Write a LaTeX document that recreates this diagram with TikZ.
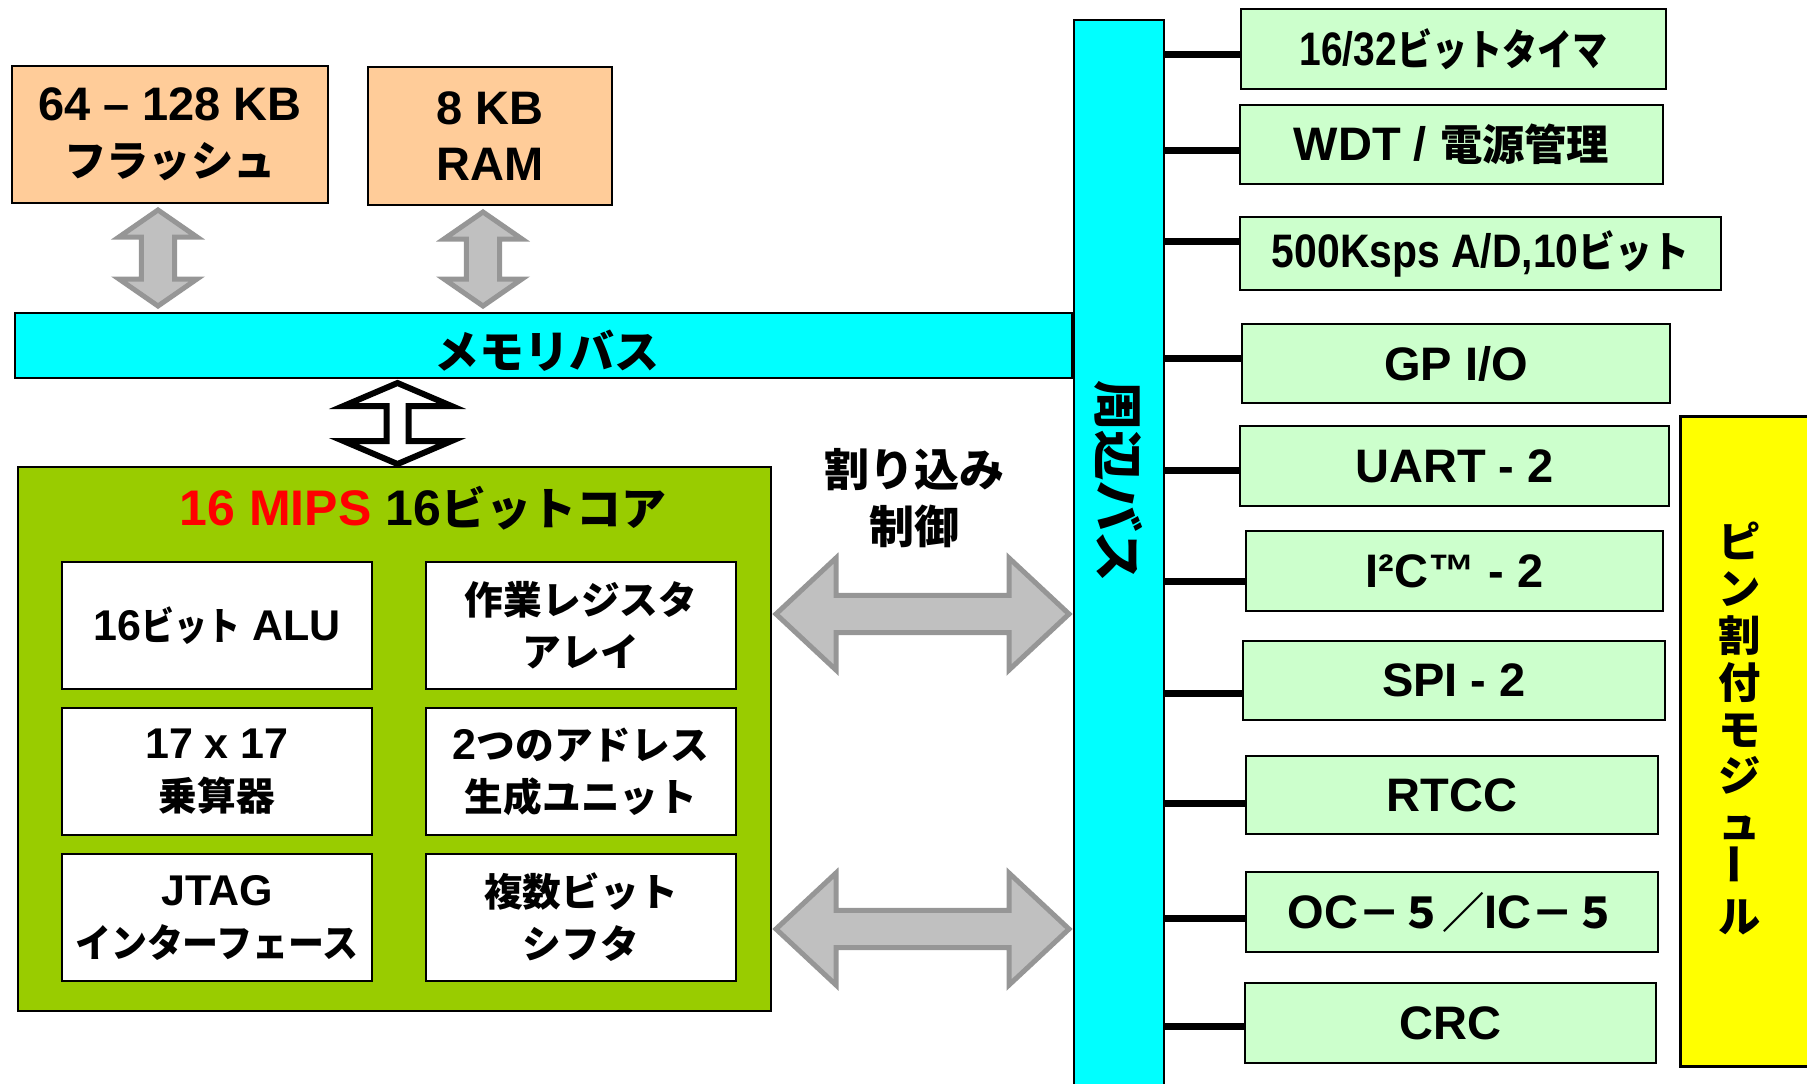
\documentclass[tikz,border=0pt]{standalone}
\usepackage{fontspec}
\usepackage{graphicx}
\setmainfont{Liberation Sans}
\newfontfamily\jpfont{Noto Sans CJK JP}[Scale=0.9]
\newcommand{\jtxt}[1]{{\jpfont #1}}
\usetikzlibrary{positioning}
\usetikzlibrary{calc}

% block arrows: style, first end, second end, shaft half, head half, head length
\newcommand{\varrow}[6]{%
  \draw[#1] let \p1=#2, \p2=#3 in
    (\x1,\y1) -- (\x1+#5,\y1+#6) -- (\x1+#4,\y1+#6) -- (\x1+#4,\y2-#6) -- (\x1+#5,\y2-#6)
    -- (\x1,\y2) -- (\x1-#5,\y2-#6) -- (\x1-#4,\y2-#6) -- (\x1-#4,\y1+#6) -- (\x1-#5,\y1+#6) -- cycle;}
\newcommand{\harrow}[6]{%
  \draw[#1] let \p1=#2, \p2=#3 in
    (\x1,\y1) -- (\x1+#6,\y1+#5) -- (\x1+#6,\y1+#4) -- (\x2-#6,\y1+#4) -- (\x2-#6,\y1+#5)
    -- (\x2,\y1) -- (\x2-#6,\y1-#5) -- (\x2-#6,\y1-#4) -- (\x1+#6,\y1-#4) -- (\x1+#6,\y1-#5) -- cycle;}

\tikzset{
  memblk/.style={draw, line width=1pt, fill={rgb,255:red,255;green,204;blue,153}, align=center, inner sep=0pt, font=\bfseries\fontsize{23.5pt}{28pt}\selectfont},
  busbar/.style={draw, line width=1pt, fill={rgb,255:red,0;green,255;blue,255}, inner sep=0pt, font=\bfseries\fontsize{25pt}{28pt}\selectfont},
  coreblk/.style={draw, line width=1pt, fill={rgb,255:red,153;green,204;blue,0}, inner sep=0pt},
  unitblk/.style={draw, line width=1pt, fill=white, align=center, inner sep=0pt, minimum width=155pt, minimum height=63.5pt, font=\bfseries\fontsize{21.5pt}{26pt}\selectfont},
  perblk/.style={draw, line width=1pt, fill={rgb,255:red,204;green,255;blue,204}, align=center, inner sep=0pt, font=\bfseries\fontsize{23.5pt}{28pt}\selectfont},
  pinblk/.style={draw, line width=1.5pt, fill={rgb,255:red,255;green,255;blue,0}, inner sep=0pt},
  link/.style={line width=3.5pt},
  garrow/.style={draw={rgb,255:red,150;green,150;blue,150}, fill={rgb,255:red,192;green,192;blue,192}, line width=2.5pt},
  karrow/.style={draw=black, fill=white, line width=3pt}
}

\begin{document}
\begin{tikzpicture}[x=0.5pt,y=0.5pt,yscale=-1,xscale=1]
\clip (0,0) rectangle (1807,1083);

% memories
\node[memblk, minimum width=158pt, minimum height=68.5pt] (flash) at (170,134.5) {64 -- 128 KB\\\jtxt{フラッシュ}};
\node[memblk, minimum width=122pt, minimum height=69pt] (ram) at (490,136) {8 KB\\RAM};

% buses
\node[busbar, minimum width=528.5pt, minimum height=32.5pt] (mbus) at (543.5,345.5) {};
\node[font=\bfseries\fontsize{25pt}{28pt}\selectfont] (mbuslbl) at (547,351) {\jtxt{メモリバス}};
\node[busbar, minimum width=45pt, minimum height=535pt] (pbus) at (1119,555) {};
\node[rotate=-90, font=\bfseries\fontsize{28pt}{30pt}\selectfont] (pbuslbl) at (1119,481) {\jtxt{周辺バス}};

% core
\node[coreblk, minimum width=376.5pt, minimum height=272pt] (core) at (394.5,739) {};
\node[font=\bfseries\fontsize{25pt}{28pt}\selectfont] (coretitle) at (423,508) {\textcolor{red}{16 MIPS} 16\jtxt{ビットコア}};
\node[unitblk] (alu) at (217,625.5) {16\scalebox{0.85}[1]{\jtxt{ビット}} ALU};
\node[unitblk, right=26pt of alu] (regs) {\jtxt{作業レジスタ}\\\jtxt{アレイ}};
\node[unitblk, below=8.5pt of alu] (mul) {17 x 17\\\jtxt{乗算器}};
\node[unitblk, right=26pt of mul] (agu) {2\jtxt{つのアドレス}\\\jtxt{生成ユニット}};
\node[unitblk, below=8.5pt of mul] (jtag) {JTAG\\\scalebox{0.93}[1]{\jtxt{インターフェース}}};
\node[unitblk, right=26pt of jtag] (shift) {\jtxt{複数ビット}\\\jtxt{シフタ}};

\node[align=center, font=\bfseries\fontsize{25pt}{28.5pt}\selectfont] (irqlbl) at (914,498) {\jtxt{割り込み}\\\jtxt{制御}};

% peripherals
\node[perblk, minimum width=212.5pt, minimum height=40pt] (tmr) at (1453.5,49) {\scalebox{0.83}[1]{16/32\jtxt{ビットタイマ}}};
\node[perblk, minimum width=211.5pt, minimum height=39.5pt] (wdt) at (1451.5,144.5) {WDT / \jtxt{電源管理}};
\node[perblk, minimum width=240.5pt, minimum height=36.5pt] (adc) at (1480.5,253.5) {\scalebox{0.87}[1]{500Ksps A/D,10\jtxt{ビット}}};
\node[perblk, minimum width=214pt, minimum height=39.5pt] (gpio) at (1456,363.5) {GP I/O};
\node[perblk, minimum width=214.5pt, minimum height=40pt] (uart) at (1454.5,466) {UART - 2};
\node[perblk, minimum width=208.5pt, minimum height=40pt] (iic) at (1454.5,571) {I²C™ - 2};
\node[perblk, minimum width=211pt, minimum height=39.5pt] (spi) at (1454,680.5) {SPI - 2};
\node[perblk, minimum width=206pt, minimum height=39pt] (rtcc) at (1452,795) {RTCC};
\node[perblk, minimum width=206pt, minimum height=40pt] (ocic) at (1452,912) {OC\jtxt{－５／}IC\jtxt{－５}};
\node[perblk, minimum width=205.5pt, minimum height=40pt] (crc) at (1450.5,1023) {CRC};

\foreach \n/\dy in {tmr/5, wdt/5.5, adc/-12.5, gpio/-5.5, uart/4, iic/10, spi/12.5, rtcc/8, ocic/6, crc/3}{
  \coordinate (tap) at ($(\n.west)+(0,\dy)$);
  \draw[link] (pbus.east |- tap) -- (tap);
}

% pin select
\node[pinblk, minimum width=75pt, minimum height=325pt] (pin) at (1755,741) {};
\node[align=center, font=\jpfont\bfseries\fontsize{23.5pt}{23.4pt}\selectfont] (pinlbl) at (1740,728.5) {ピ\\ン\\割\\付\\モ\\ジ\\ュ\\\rotatebox{90}{ー}\\ル};

% block arrows
\varrow{garrow}{($(flash.south)+(-12,6)$)}{($(flash.south |- mbus.north)+(-12,-6)$)}{8.3pt}{19.5pt}{13.5pt}
\varrow{garrow}{($(ram.south)+(-7,6)$)}{($(ram.south |- mbus.north)+(-7,-6)$)}{8.3pt}{19.5pt}{13.5pt}
\varrow{karrow}{($(core.north |- mbus.south)+(3,4)$)}{($(core.north)+(3,-2)$)}{5.5pt}{27pt}{11.5pt}
\coordinate (ia) at ($(core.east)+(0,-125)$);
\coordinate (ib) at ($(core.east)+(0,190)$);
\harrow{garrow}{($(ia)+(4,0)$)}{($(pbus.west |- ia)+(-4,0)$)}{9.3pt}{28pt}{30pt}
\harrow{garrow}{($(ib)+(4,0)$)}{($(pbus.west |- ib)+(-4,0)$)}{9.3pt}{28pt}{30pt}

\end{tikzpicture}
\end{document}
